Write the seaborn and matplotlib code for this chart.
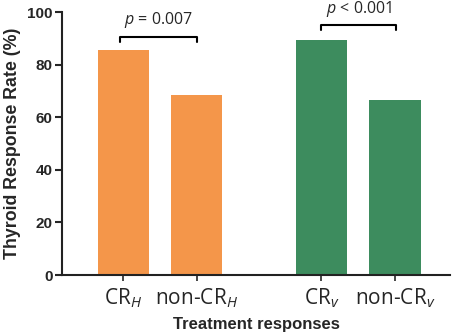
import matplotlib
matplotlib.use("Agg")
import matplotlib.pyplot as plt
import seaborn as sns
import pandas as pd

categories = [r"CR$_{\mathit{H}}$", r"non-CR$_{\mathit{H}}$", r"CR$_{\mathit{v}}$", r"non-CR$_{\mathit{v}}$"]
positions = [0.0, 1.0, 2.7, 3.7]
values = [85.4, 68.3, 89.5, 66.4]
groups = ["H", "H", "V", "V"]
colors = {"H": "#F4964A", "V": "#3D8C5E"}
pvals = ["$\\it{p}$ = 0.007", "$\\it{p}$ < 0.001"]

sns.set_style("ticks")
plt.rcParams['font.family'] = ['Liberation Sans', 'DejaVu Sans']
plt.rcParams['mathtext.fontset'] = 'custom'
plt.rcParams['mathtext.rm'] = 'Open Sans'
plt.rcParams['mathtext.it'] = 'Open Sans:italic'

df = pd.DataFrame({"pos": positions, "val": values, "grp": groups})

fig = plt.figure(figsize=(4.6, 3.35), dpi=100)
ax = fig.add_axes([0.135, 0.179, 0.843, 0.785])
sns.barplot(data=df, x="pos", y="val", hue="grp", palette=colors, native_scale=True,
            width=0.7, dodge=False, legend=False, ax=ax, edgecolor="none", saturation=1)

ax.set_xlim(-0.835, 4.45)
ax.set_ylim(0, 100)
ax.set_yticks([0, 20, 40, 60, 80, 100])
ax.set_xticks(positions)
ax.set_xticklabels(categories, fontsize=15, family='Open Sans')
for lab in ax.get_yticklabels():
    lab.set_fontweight('bold')
    lab.set_fontsize(11)
ax.set_ylabel("Thyroid Response Rate (%)", fontsize=12.8, fontweight='bold', labelpad=4)
ax.set_xlabel("Treatment responses", fontsize=12, fontweight='bold', labelpad=5)
sns.despine(ax=ax)
for s in ["left", "bottom"]:
    ax.spines[s].set_linewidth(1.5)
    ax.spines[s].set_color("#222222")
ax.tick_params(axis='y', width=1.5, length=5, pad=2)
ax.tick_params(axis='x', width=1.2, length=4, pad=4)

# significance brackets
def bracket(x1, x2, y, h, text, ty):
    ax.plot([x1, x1, x2, x2], [y - h, y, y, y - h], color="black", lw=1.5, clip_on=False)
    ax.text((x1 + x2) / 2, ty, text, ha="center", va="center", fontsize=11.5,
            family='Open Sans', clip_on=False)

bracket(-0.05, 1.0, 90.6, 2.0, pvals[0], 96.8)
bracket(2.7, 3.72, 95.0, 2.0, pvals[1], 101.2)

fig.savefig("out.png", dpi=100)
